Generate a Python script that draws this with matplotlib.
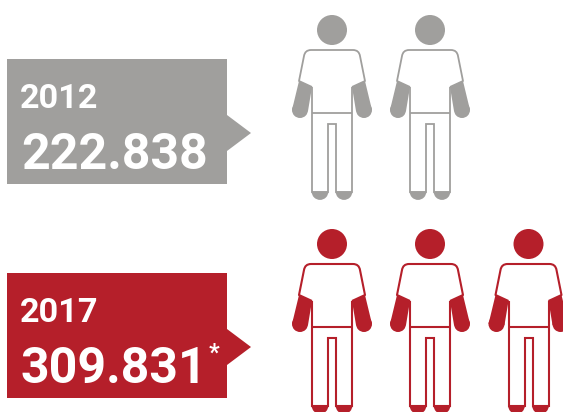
import matplotlib
matplotlib.use("Agg")
import matplotlib.pyplot as plt
from matplotlib.patches import Circle, Polygon, PathPatch, Rectangle, Wedge
from matplotlib.path import Path

years = ["2012", "2017"]
value_labels = ["222.838", "309.831"]
value_marks = ["", "*"]
person_counts = [2, 3]
colors = ["#a09f9d", "#b51f2a"]
line_widths = [1.3, 1.5]
row_tops = [0, 214]
person_x = [332, 430, 528.5]

plt.rcParams["font.family"] = ["Roboto", "DejaVu Sans"]
fig = plt.figure(figsize=(5.63, 4.12), dpi=100)
ax = fig.add_axes([0, 0, 1, 1])
ax.set_xlim(0, 563)
ax.set_ylim(412, 0)
ax.axis("off")


def draw_person(cx, top, color, lw):
    def T(x, y):
        return (cx + x, top + y)

    ax.add_patch(Circle(T(0, 30), 15, fc=color, ec="none"))
    for s in (-1, 1):
        ax.add_patch(Polygon([T(s * 33, 81), T(s * 20, 87), T(s * 24, 111), T(s * 40, 110)],
                             fc=color, ec="none"))
        ax.add_patch(Circle(T(s * 32, 110), 8, fc=color, ec="none"))
        ax.add_patch(Wedge(T(s * 12, 191.5), 8.4, 0, 180, fc=color, ec="none"))
    verts = [T(-20, 87), T(-33, 81), T(-28, 56), T(-27, 50), T(-21, 50),
             T(21, 50), T(27, 50), T(28, 56), T(33, 81), T(20, 87)]
    codes = [Path.MOVETO, Path.LINETO, Path.LINETO, Path.CURVE3, Path.CURVE3,
             Path.LINETO, Path.CURVE3, Path.CURVE3, Path.LINETO, Path.LINETO]
    ax.add_patch(PathPatch(Path(verts, codes), fc="none", ec=color, lw=lw, joinstyle="round"))
    legs = [T(-20, 87), T(-20, 192), T(-4, 192), T(-4, 124), T(4, 124), T(4, 192),
            T(20, 192), T(20, 87)]
    ax.add_patch(Polygon(legs, closed=False, fc="none", ec=color, lw=lw))
    ax.plot(*zip(T(-20, 113), T(20, 113)), color=color, lw=lw, solid_capstyle="butt")


for year, label, mark, n, color, lw, top in zip(years, value_labels, value_marks,
                                                person_counts, colors, line_widths, row_tops):
    ax.add_patch(Rectangle((7, 59 + top), 220, 125, fc=color, ec="none"))
    ax.add_patch(Polygon([(227, 115 + top), (251, 133 + top), (227, 151 + top)], fc=color, ec="none"))
    ax.text(19.5, 107.5 + top, year, color="white", fontsize=24.7, fontweight="bold", va="baseline", ha="left")
    ax.text(21, 169 + top, label, color="white", fontsize=36, fontweight="bold", va="baseline", ha="left")
    if mark:
        ax.text(208.5, 146 + top, mark, color="white", fontsize=17, fontweight="bold", va="baseline", ha="left")
    for cx in person_x[:n]:
        draw_person(cx, top, color, lw)

fig.savefig("out.png", dpi=100)
